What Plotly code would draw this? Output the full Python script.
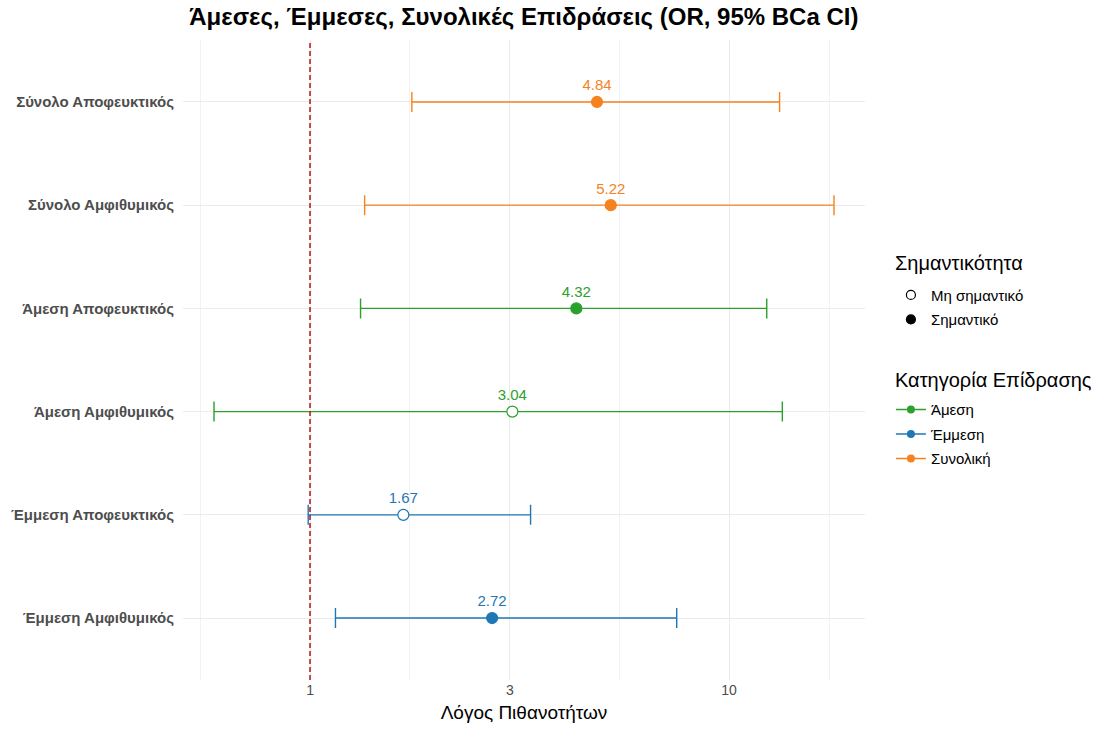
import plotly.graph_objects as go
import math

# ---- data ----
labels = ["Σύνολο Αποφευκτικός", "Σύνολο Αμφιθυμικός", "Άμεση Αποφευκτικός",
          "Άμεση Αμφιθυμικός", "Έμμεση Αποφευκτικός", "Έμμεση Αμφιθυμικός"]
category = ["Συνολική", "Συνολική", "Άμεση", "Άμεση", "Έμμεση", "Έμμεση"]
odds_ratio = [4.84, 5.22, 4.32, 3.04, 1.67, 2.72]
ci_lower = [1.75, 1.35, 1.32, 0.59, 0.99, 1.15]
ci_upper = [13.2, 17.8, 12.3, 13.4, 3.36, 7.5]
significant = [True, True, True, False, False, True]

x_ticks = [1, 3, 10]
break_seq = [0.3, 1, 3, 10, 30]

colors = {"Άμεση": "#2ca02c", "Έμμεση": "#1f77b4", "Συνολική": "#f5821f"}
cat_order = ["Άμεση", "Έμμεση", "Συνολική"]

FONT = "Liberation Sans, Arial, sans-serif"

fig = go.Figure()

# error bars (drawn first)
for i, lab in enumerate(labels):
    c = colors[category[i]]
    fig.add_trace(go.Scatter(
        x=[odds_ratio[i]], y=[lab], mode="markers",
        marker=dict(size=1, color="rgba(0,0,0,0)"),
        error_x=dict(type="data", symmetric=False,
                     array=[ci_upper[i] - odds_ratio[i]],
                     arrayminus=[odds_ratio[i] - ci_lower[i]],
                     color=c, thickness=1.4, width=10),
        showlegend=False, hoverinfo="skip"))

# points + labels
for i, lab in enumerate(labels):
    c = colors[category[i]]
    fig.add_trace(go.Scatter(
        x=[odds_ratio[i]], y=[lab], mode="markers+text",
        text=[f"{odds_ratio[i]:.2f}"], textposition="top center",
        textfont=dict(family=FONT, size=15, color=c),
        marker=dict(size=11, symbol="circle",
                    color=c if significant[i] else "white",
                    line=dict(color=c, width=1.2)),
        showlegend=False))

# legend 1: significance
fig.add_trace(go.Scatter(x=[None], y=[None], mode="markers", name="Μη σημαντικό",
                         marker=dict(size=9, color="white", line=dict(color="black", width=1.2)),
                         legend="legend", legendgroup="s1"))
fig.add_trace(go.Scatter(x=[None], y=[None], mode="markers", name="Σημαντικό",
                         marker=dict(size=9, color="black", line=dict(color="black", width=1.2)),
                         legend="legend", legendgroup="s2"))
# legend 2: category
for cat in cat_order:
    fig.add_trace(go.Scatter(x=[None], y=[None], mode="lines+markers", name=cat,
                             line=dict(color=colors[cat], width=1.6),
                             marker=dict(size=8, color=colors[cat]),
                             legend="legend2", legendgroup="c_" + cat))

# reference line at OR = 1
fig.add_shape(type="line", xref="x", yref="paper", x0=1, x1=1, y0=0, y1=1,
              line=dict(color="#b5121b", width=1.5, dash="5px,3px"), layer="above")

# legend titles
fig.add_annotation(text="Σημαντικότητα", xref="paper", yref="paper", x=1.041, y=0.652,
                   xanchor="left", yanchor="middle", showarrow=False,
                   font=dict(family=FONT, size=20, color="black"))
fig.add_annotation(text="Κατηγορία Επίδρασης", xref="paper", yref="paper", x=1.041, y=0.469,
                   xanchor="left", yanchor="middle", showarrow=False,
                   font=dict(family=FONT, size=20, color="black"))

minor_vals = [math.sqrt(break_seq[k] * break_seq[k + 1]) for k in range(len(break_seq) - 1)]

lo = math.log10(min(ci_lower)); hi = math.log10(max(ci_upper))
pad = 0.05 * (hi - lo)

fig.update_layout(
    width=1096, height=732,
    margin=dict(l=183, r=231, t=40, b=52, autoexpand=False),
    paper_bgcolor="white", plot_bgcolor="white",
    font=dict(family=FONT, size=14, color="#4d4d4d"),
    title=dict(text="<b>Άμεσες, Έμμεσες, Συνολικές Επιδράσεις (OR, 95% BCa CI)</b>",
               x=0.478, xanchor="center", y=0.977, yanchor="middle",
               font=dict(family=FONT, size=24, color="black")),
    xaxis=dict(type="log", range=[lo - pad, hi + pad], automargin=False,
               tickvals=x_ticks, ticktext=[str(t) for t in x_ticks],
               showgrid=True, gridcolor="#ebebeb", gridwidth=1.1,
               zeroline=False, showline=False, ticks="",
               tickfont=dict(size=14, color="#4d4d4d"),
               title=dict(text="Λόγος Πιθανοτήτων", standoff=8,
                          font=dict(size=19, color="black")),
               minor=dict(tickvals=minor_vals, showgrid=True, gridcolor="#f2f2f2", gridwidth=0.8, ticks="")),
    yaxis=dict(type="category", categoryorder="array", categoryarray=labels[::-1],
               range=[-0.6, 5.6], showgrid=True, gridcolor="#ebebeb", gridwidth=1.1,
               zeroline=False, ticks="", ticklabelstandoff=8, automargin=False,
               tickfont=dict(size=15, color="#4d4d4d", weight="bold")),
    legend=dict(x=1.038, xanchor="left", y=0.627, yanchor="top",
                font=dict(size=15, color="black"), itemwidth=30, tracegroupgap=2,
                bgcolor="rgba(0,0,0,0)"),
    legend2=dict(x=1.038, xanchor="left", y=0.448, yanchor="top",
                 font=dict(size=15, color="black"), itemwidth=30, tracegroupgap=2,
                 bgcolor="rgba(0,0,0,0)"),
)

fig.write_html("out.html")
